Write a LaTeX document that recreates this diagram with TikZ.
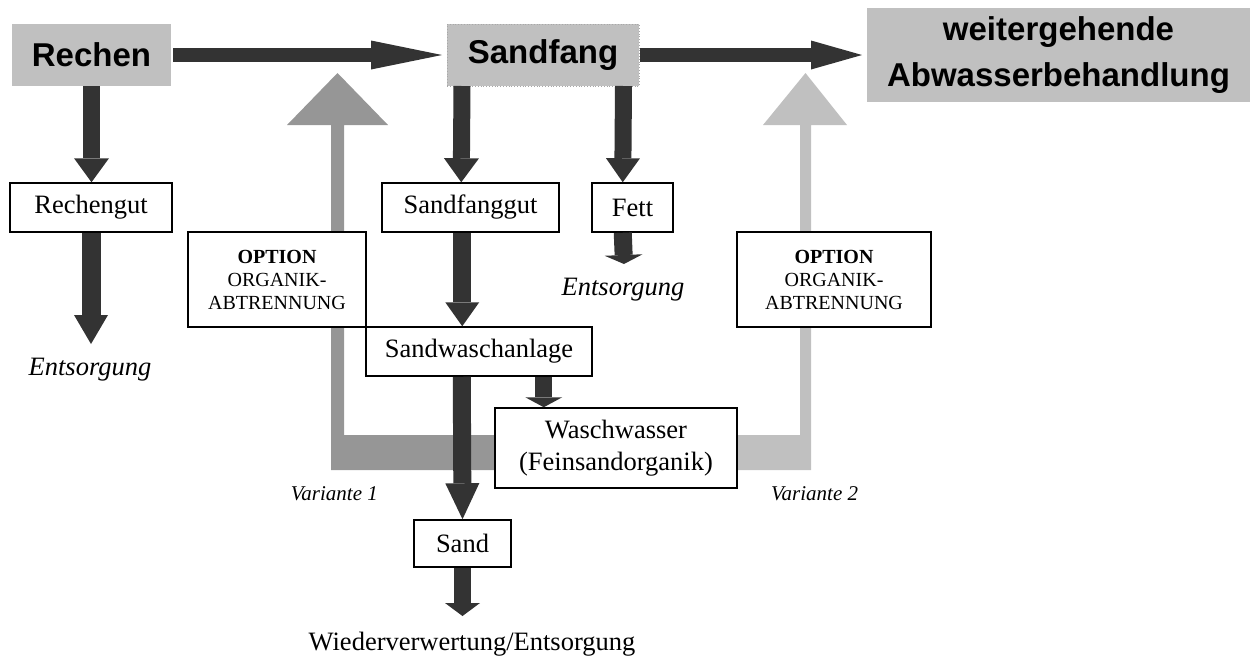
\documentclass[tikz,border=0pt]{standalone}
\usepackage{fontspec}
\setmainfont{Liberation Serif}
\newfontfamily\arialfont{Liberation Sans}
\usetikzlibrary{arrows.meta}
\definecolor{darkc}{HTML}{333333}
\definecolor{boxgray}{HTML}{C0C0C0}
\definecolor{vonec}{HTML}{969696}
\definecolor{vtwoc}{HTML}{C0C0C0}
\definecolor{dotc}{HTML}{A8A8A8}
\begin{document}
\begin{tikzpicture}[x=1pt,y=-1pt,
  graybox/.style={fill=boxgray, inner sep=0pt, outer sep=0pt, font=\arialfont\bfseries\fontsize{33}{46}\selectfont, align=center},
  whitebox/.style={draw=black, fill=white, line width=1.5pt, inner sep=0pt, font=\fontsize{26.5}{32}\selectfont, align=center},
  optbox/.style={whitebox, font=\fontsize{20}{23}\selectfont},
  plaintext/.style={inner sep=0pt, font=\fontsize{26.5}{32}\selectfont},
  italtext/.style={inner sep=0pt, font=\itshape\fontsize{26.5}{32}\selectfont},
  vartext/.style={inner sep=0pt, font=\itshape\fontsize{21}{25}\selectfont},
  fat/.style={draw=darkc, line width=#1},
  fattip/.style n args={2}{-{Triangle[length=#1,width=#2,line width=0pt]}},
]
\useasboundingbox (0,0) rectangle (1254,657);

% gray return paths
\fill[vonec] (331,125) -- (331,470) -- (500,470) -- (500,435) -- (344,435) -- (344,125)
  -- (388,125) -- (337.5,73) -- (287,125) -- cycle;
\fill[vtwoc] (811,125) -- (811,470) -- (730,470) -- (730,435) -- (800,435) -- (800,125)
  -- (847,125) -- (805.5,73) -- (763,125) -- cycle;

% nodes
\node[graybox, minimum width=159, minimum height=62] (rechen) at (91.5,55) {Rechen};
\node[graybox, draw=dotc, dotted, line width=0.8pt, minimum width=192, minimum height=62] (sandfang) at (543,55) {Sandfang};
\node[graybox, minimum width=383, minimum height=94] (weiter) at (1058.5,55) {weitergehende\\Abwasserbehandlung};
\node[whitebox, minimum width=162, minimum height=49] (rechengut) at (91,207.5) {Rechengut};
\node[whitebox, minimum width=177, minimum height=49] (sandfanggut) at (470.5,207.5) {Sandfanggut};
\node[whitebox, minimum width=81, minimum height=49] (fett) at (632.5,207.5) {Fett};
\node[optbox, minimum width=178, minimum height=95] (optone) at (277,279.5) {\textbf{OPTION}\\ORGANIK-\\ABTRENNUNG};
\node[optbox, minimum width=194, minimum height=95] (opttwo) at (834,279.5) {\textbf{OPTION}\\ORGANIK-\\ABTRENNUNG};
\node[whitebox, minimum width=226, minimum height=49] (sandwasch) at (479,351.5) {Sandwaschanlage};
\node[whitebox, minimum width=242, minimum height=80] (wasch) at (616,448) {Waschwasser\\(Feinsandorganik)};
\node[whitebox, minimum width=97, minimum height=47] (sand) at (462.5,543.5) {Sand};

\node[italtext, anchor=base] (entsone) at (90,375) {Entsorgung};
\node[italtext, anchor=base] (entstwo) at (623,295) {Entsorgung};
\node[vartext, anchor=base east] (varone) at (378,500) {Variante 1};
\node[vartext, anchor=base west] (vartwo) at (771,500) {Variante 2};
\node[plaintext, anchor=base] (wieder) at (472,650) {Wiederverwertung/Entsorgung};

\coordinate (tipone) at (91,344);
\coordinate (tiptwo) at (624,264);
\coordinate (tipthree) at (462.5,616);

% dark arrows
\draw[fat=14.5, fattip={71pt}{29pt}, shorten <=2pt, shorten >=5pt] (rechen.east) -- (sandfang.west);
\draw[fat=14.5, fattip={51pt}{29pt}, shorten <=1pt, shorten >=5pt] (sandfang.east) -- (weiter.west);
\draw[fat=17, fattip={24pt}{35pt}] (rechen.south) -- (rechen.south |- rechengut.north);
\draw[fat=19, fattip={29pt}{34pt}] (rechengut.south) -- (tipone);
\draw[fat=17, fattip={24pt}{35pt}] ([xshift=15pt]sandfang.south west) -- ([xshift=80pt]sandfanggut.north west);
\draw[fat=17, fattip={24pt}{34pt}] ([xshift=176.5pt]sandfang.south west) -- ([xshift=31.5pt]fett.north west);
\draw[fat=18, fattip={24pt}{34pt}] ([xshift=81pt]sandfanggut.south west) -- ([xshift=97pt]sandwasch.north west);
\draw[fat=18, fattip={9pt}{38pt}] ([xshift=31.5pt]fett.south west) -- (tiptwo);
\draw[fat=17, fattip={10pt}{37pt}] ([xshift=178.5pt]sandwasch.south west) -- ([xshift=49.5pt]wasch.north west);
\draw[fat=18, fattip={36pt}{34pt}] ([xshift=96.5pt]sandwasch.south west) -- (sand.north);
\draw[fat=17, fattip={13pt}{35pt}] (sand.south) -- (tipthree);
\end{tikzpicture}
\end{document}
